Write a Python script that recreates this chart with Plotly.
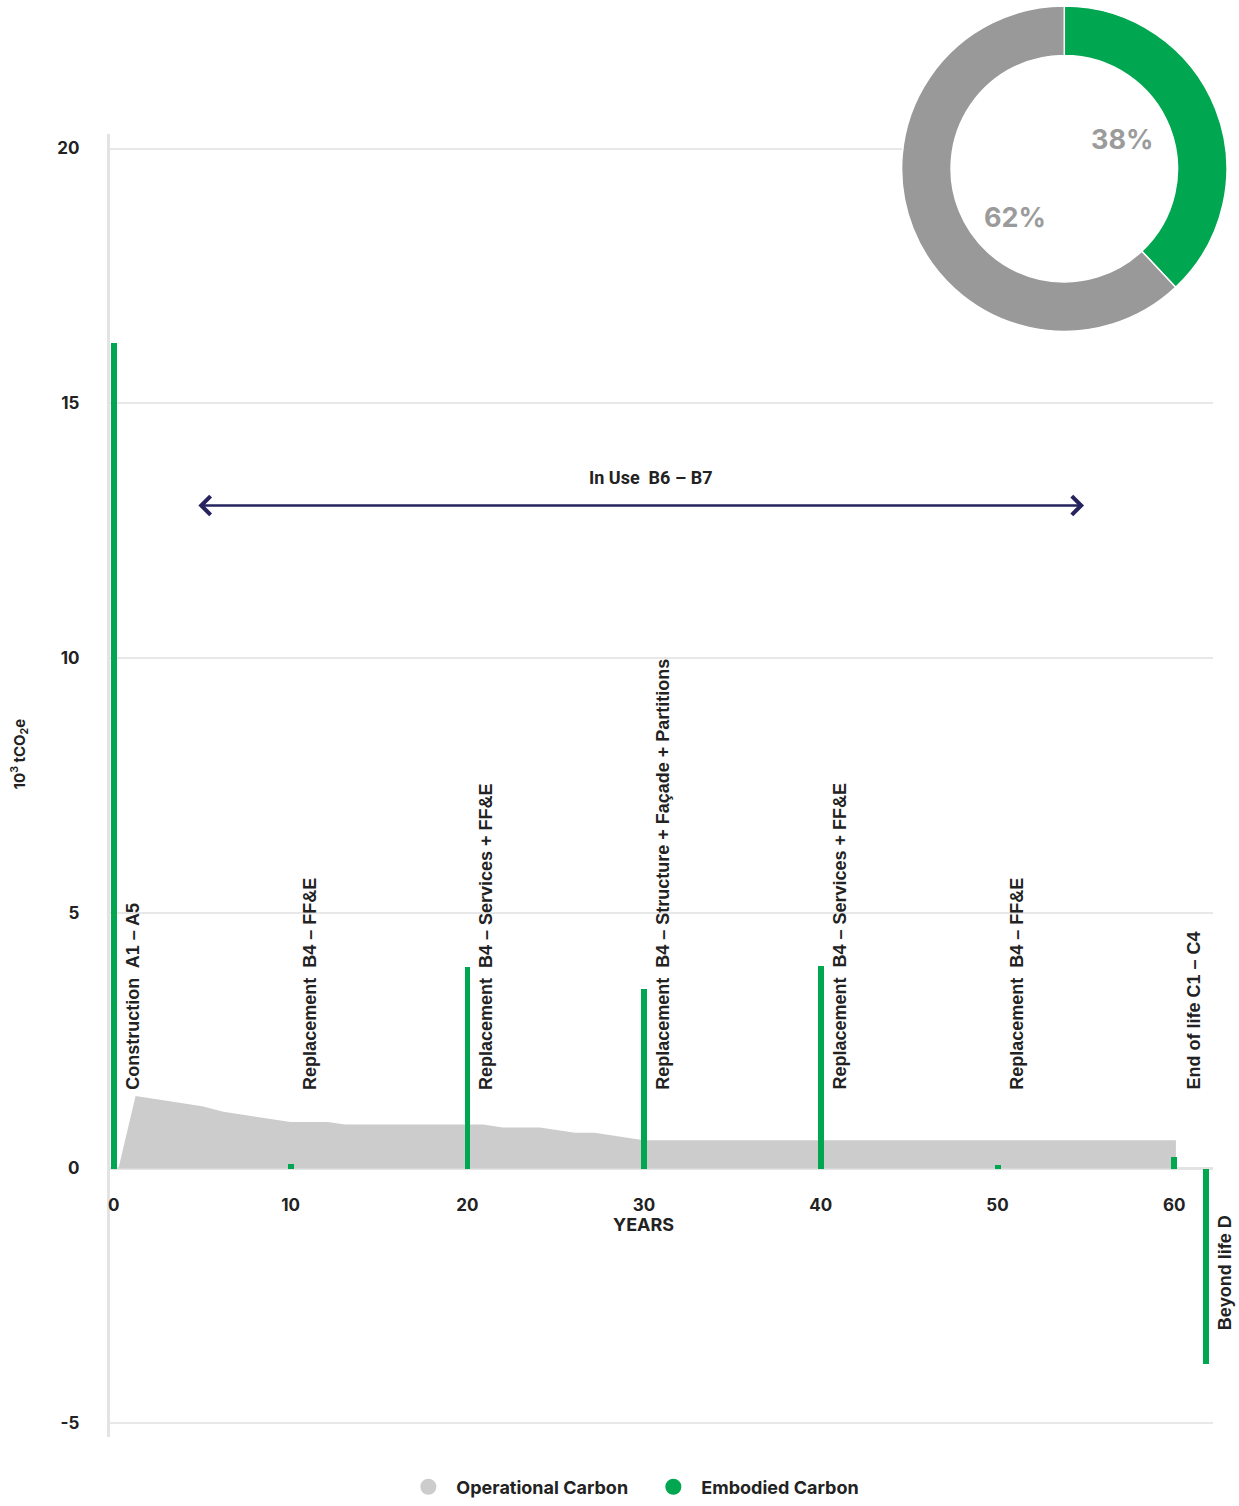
import plotly.graph_objects as go

# ---------------- data ----------------
op_years = [0.26, 1.23, 5.0, 6.2, 10.0, 12.1, 13.1, 20.9, 22.0, 24.1, 26.1, 27.2, 30.0, 60.1, 60.1]
operational = [0, 1.42, 1.22, 1.11, 0.91, 0.91, 0.86, 0.86, 0.80, 0.80, 0.70, 0.70, 0.55, 0.55, 0]

emb_years = [0, 10, 20, 30, 40, 50, 60, 61.8]
embodied = [16.2, 0.1, 3.95, 3.52, 3.97, 0.08, 0.22, -3.83]
stage_labels = [
    "Construction\u00a0 A1 – A5",
    "Replacement\u00a0 B4 – FF&E",
    "Replacement\u00a0 B4 – Services + FF&E",
    "Replacement\u00a0 B4 – Structure + Façade + Partitions",
    "Replacement\u00a0 B4 – Services + FF&E",
    "Replacement\u00a0 B4 – FF&E",
    "End of life C1 – C4",
    "Beyond life D",
]

share_names = ["Embodied Carbon", "Operational Carbon"]
share_values = [38, 62]
share_text = ["38%", "62%"]

in_use_start, in_use_end, in_use_level = 4.7, 54.9, 13.0
in_use_label = "In Use\u00a0 B6 – B7"

x_ticks = [0, 10, 20, 30, 40, 50, 60]
y_ticks = [-5, 0, 5, 10, 15, 20]

GREEN = "#00a650"
LIGHT = "#cccccc"
DONUT_GREY = "#999999"
TEXT = "#222222"
FONT = "Inter, Roboto, 'Liberation Sans', sans-serif"
LABEL_FONT = "'Liberation Sans', Arial, sans-serif"

W, H = 1239, 1506
X_RANGE = [-0.226, 62.2]
Y_RANGE = [-5.27, 20.29]

fig = go.Figure()

# operational carbon area (base axes)
fig.add_trace(go.Scatter(
    x=op_years, y=operational, mode="lines", fill="tozeroy",
    fillcolor=LIGHT, line=dict(color=LIGHT, width=0),
    showlegend=False, hoverinfo="skip"))

# embodied carbon bars on overlaying axes so they sit above the area
fig.add_trace(go.Bar(
    x=emb_years, y=embodied, width=0.33, marker=dict(color=GREEN, line=dict(width=0)),
    xaxis="x2", yaxis="y2", showlegend=False, hoverinfo="skip"))

# legend items (circles)
fig.add_trace(go.Scatter(x=[None], y=[None], mode="markers", name="Operational Carbon",
                         marker=dict(size=18, color=LIGHT)))
fig.add_trace(go.Scatter(x=[None], y=[None], mode="markers", name="Embodied Carbon",
                         marker=dict(size=18, color=GREEN)))

# donut (white backing disc hides gridline inside hole)
pie_domain = dict(x=[901 / W, 1227 / W], y=[1 - 332 / H, 1 - 6 / H])
fig.add_trace(go.Pie(values=[1], labels=["bg"], marker=dict(colors=["white"], line=dict(width=0)),
                     domain=pie_domain, textinfo="none", hoverinfo="skip", showlegend=False, sort=False))
fig.add_trace(go.Pie(values=share_values, labels=share_names, hole=0.696, sort=False,
                     direction="clockwise", rotation=0,
                     marker=dict(colors=[GREEN, DONUT_GREY], line=dict(color="white", width=1.5)),
                     domain=pie_domain, textinfo="none", hoverinfo="skip", showlegend=False))

annotations = []
label_font = dict(family=LABEL_FONT, size=18, color=TEXT, weight=700)
for i, (yr, lab) in enumerate(zip(emb_years, stage_labels)):
    if i < len(stage_labels) - 1:
        annotations.append(dict(x=yr + 1.1, y=1.5, xref="x", yref="y", text=lab, showarrow=False,
                                textangle=-90, xanchor="center", yanchor="bottom", font=label_font))
    else:
        annotations.append(dict(x=yr, y=-0.87, xref="x", yref="y", xshift=19, text=lab, showarrow=False,
                                textangle=-90, xanchor="center", yanchor="top", font=label_font))

# in-use arrow
annotations.append(dict(x=in_use_end, y=in_use_level, ax=in_use_start, ay=in_use_level,
                        xref="x", yref="y", axref="x", ayref="y", text="", showarrow=True,
                        arrowhead=4, startarrowhead=4, arrowside="end+start",
                        arrowsize=1.5, startarrowsize=1.5, arrowwidth=2.4, arrowcolor="#26235f",
                        standoff=0, startstandoff=0))
annotations.append(dict(x=(in_use_start + in_use_end) / 2 + 0.6, y=in_use_level + 0.55, xref="x", yref="y",
                        text=in_use_label, showarrow=False, xanchor="center", yanchor="middle",
                        font=dict(family="Roboto, sans-serif", size=18, color=TEXT, weight=700)))

# axis titles
annotations.append(dict(x=18 / W, y=1 - 755 / H, xref="paper", yref="paper",
                        xanchor="center", yanchor="middle",
                        text="10<sup>3</sup> tCO<sub>2</sub>e", textangle=-90, showarrow=False,
                        font=dict(family=FONT, size=15, color=TEXT, weight=700)))
annotations.append(dict(x=30, y=-1.11, xref="x", yref="y", text="YEARS", showarrow=False,
                        xanchor="center", yanchor="middle",
                        font=dict(family=FONT, size=18, color=TEXT, weight=700)))

# donut percentages
for txt, (px, py) in zip(share_text, [(1122, 140), (1015, 218)]):
    annotations.append(dict(x=px / W, y=1 - py / H, xref="paper", yref="paper", text=txt,
                            xanchor="center", yanchor="middle", showarrow=False,
                            font=dict(family=FONT, size=27, color="#9b9b9b", weight=700)))

y_dom = [1 - 1440 / H, 1 - 134 / H]
x_dom = [108 / W, 1213 / W]
zero_frac = y_dom[0] + (0 - Y_RANGE[0]) / (Y_RANGE[1] - Y_RANGE[0]) * (y_dom[1] - y_dom[0])

fig.update_layout(
    width=W, height=H,
    margin=dict(l=0, r=0, t=0, b=0),
    paper_bgcolor="white", plot_bgcolor="white",
    font=dict(family=FONT, color=TEXT, size=17, weight=700),
    barmode="overlay", bargap=0,
    hovermode=False,
    xaxis=dict(domain=x_dom, range=X_RANGE,
               anchor="free", position=zero_frac,
               tickvals=x_ticks, ticktext=[str(t) for t in x_ticks],
               showgrid=False, zeroline=False, showline=False, ticks="",
               ticklabelstandoff=25,
               tickfont=dict(family=FONT, size=17, color=TEXT, weight=700)),
    yaxis=dict(domain=y_dom, range=Y_RANGE,
               tickvals=y_ticks, ticktext=[str(t) for t in y_ticks],
               showgrid=True, gridcolor="#e8e8e8", gridwidth=2,
               zeroline=True, zerolinecolor="#e3e3e3", zerolinewidth=3,
               showline=True, linecolor="#e3e3e3", linewidth=3,
               ticks="", ticklabelstandoff=24,
               tickfont=dict(family=FONT, size=17, color=TEXT, weight=700)),
    xaxis2=dict(overlaying="x", range=X_RANGE, visible=False, anchor="y2"),
    yaxis2=dict(overlaying="y", range=Y_RANGE, visible=False, anchor="x2"),
    legend=dict(orientation="h", x=399 / W, xanchor="left", y=1 - 1490 / H, yanchor="middle",
                font=dict(family=FONT, size=18, color=TEXT, weight=700),
                itemwidth=46, entrywidth=184, entrywidthmode="pixels"),
    annotations=annotations,
)

fig.write_html("out.html", post_script="document.body.style.margin='0';",
               config={"displayModeBar": False})
